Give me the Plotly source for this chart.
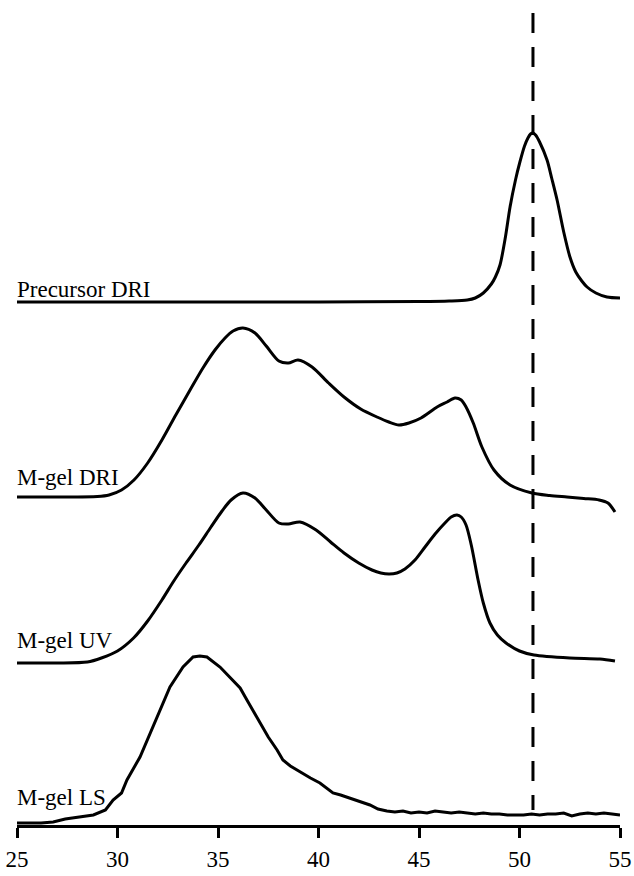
import plotly.graph_objects as go

# ---------------- data (x = elution volume, y = detector response, arbitrary units) ----------------
x_ticks = [25, 30, 35, 40, 45, 50, 55]
tick_labels = ["25", "30", "35", "40", "45", "50", "55"]

series_names = ["Precursor DRI", "M-gel DRI", "M-gel UV", "M-gel LS"]
series_offsets = [523, 328, 162, 2]          # vertical stacking offsets
label_y = [536, 348, 185, 28]                 # label heights (same units as y)

prec_x = [25.0, 30.0, 35.0, 40.0, 45.0, 46.5, 47.4, 47.8, 48.2, 48.6, 48.8, 49.03, 49.3, 49.53,
          49.8, 50.02, 50.25, 50.42, 50.55, 50.67, 50.8, 51.0, 51.37, 51.6, 51.87, 52.2, 52.51,
          52.8, 53.1, 53.36, 53.8, 54.35, 55.0]
prec_y = [0, 0, 0, 0, 0.5, 1, 2, 4, 9, 18, 25, 37, 65, 95,
          122, 140, 156, 164, 168, 169, 167, 160, 142, 124, 102, 70, 45,
          30, 21, 15, 9, 5, 4]

dri_x = [25.0, 27.0, 29.0, 29.58, 30.2, 30.82, 31.5, 32.21, 32.9, 33.61, 34.25, 34.85, 35.35,
         35.75, 36.24, 36.84, 37.4, 38.03, 38.5, 38.98, 39.68, 40.5, 41.27, 42.1, 42.91, 43.5,
         44.0, 44.5, 45.1, 45.9, 46.4, 46.79, 47.1, 47.34, 47.7, 48.13, 48.73, 49.53, 50.62,
         51.5, 52.36, 53.2, 53.96, 54.4, 54.75]
dri_y = [0, 0, 0.5, 2, 7, 17, 34, 57, 82, 107, 129, 147, 159,
         166, 169, 164, 151, 136, 134, 137, 130, 114, 100, 88, 80, 75,
         72, 74, 79, 90, 95, 99, 97, 90, 74, 50, 27, 12, 4,
         1.5, 0, -1.5, -3, -6, -15]

uv_x = [25.0, 27.0, 28.5, 29.2, 30.0, 30.8, 31.5, 32.21, 32.8, 33.41, 34.05, 34.65, 35.2, 35.65,
        36.24, 36.84, 37.4, 38.03, 38.5, 39.08, 39.88, 40.6, 41.27, 42.0, 42.66, 43.1, 43.51,
        43.9, 44.3, 44.8, 45.3, 45.8, 46.29, 46.6, 46.89, 47.1, 47.34, 47.6, 47.94, 48.2,
        48.53, 48.9, 49.33, 50.0, 50.72, 52.5, 54.0, 54.75]
uv_y = [0, 0, 1, 5, 12, 25, 42, 63, 82, 100, 118, 136, 152, 163,
        170, 165, 153, 140, 139, 141, 133, 121, 110, 100, 93, 90, 89,
        90, 94, 103, 116, 129, 140, 146, 148, 146, 138, 118, 83, 60,
        40, 28, 20, 12, 8, 5, 4, 2]

ls_x = [25.0, 26.2, 26.8, 27.4, 28.1, 28.8, 29.4, 29.78, 30.2, 30.47, 31.12, 31.77, 32.61, 33.26,
        33.76, 34.1, 34.45, 35.1, 35.75, 36.1, 36.44, 37.09, 37.5, 37.94, 38.23, 38.6, 39.08,
        39.6, 40.07, 40.4, 40.72, 41.1, 41.57, 42.0, 42.56, 42.96, 43.4, 43.8, 44.2, 44.6,
        45.0, 45.4, 45.8, 46.2, 46.6, 47.0, 47.4, 47.8, 48.2, 48.6, 49.0, 49.4, 49.8, 50.2,
        50.6, 51.0, 51.4, 51.8, 52.2, 52.6, 53.0, 53.4, 53.8, 54.2, 54.6, 55.0]
ls_y = [0, 0, 1, 4, 6, 8, 13, 23, 30, 43, 66, 96, 136, 156,
        166, 167, 166, 156, 143, 135, 123, 100, 86, 73, 63, 57, 51,
        45, 40, 35, 30, 28, 25, 22, 18, 14, 12, 11, 12, 10,
        11, 10, 12, 11, 10, 11, 10, 9, 10, 9, 9, 8, 8, 8,
        9, 8, 9, 9, 10, 7, 9, 10, 9, 10, 9, 8]

marker_x = 50.67                 # dashed reference line position
marker_span = [812, 15]          # top / bottom of dashed line

curves = [(prec_x, prec_y, "spline"), (dri_x, dri_y, "spline"),
          (uv_x, uv_y, "spline"), (ls_x, ls_y, "linear")]

SERIF = "Liberation Serif, Times New Roman, Times, serif"

fig = go.Figure()
for (xs, ys, shape), off, name in zip(curves, series_offsets, series_names):
    fig.add_trace(go.Scatter(
        x=xs, y=[v + off for v in ys], mode="lines", name=name,
        line=dict(color="black", width=3, shape=shape, smoothing=0.8),
        hoverinfo="skip", showlegend=False))

fig.add_shape(type="line", xref="x", yref="y",
              x0=marker_x, x1=marker_x, y0=marker_span[0], y1=marker_span[1],
              line=dict(color="black", width=3, dash="20px,14px"))

for name, ly in zip(series_names, label_y):
    fig.add_annotation(x=-0.004, xref="paper", y=ly, yref="y", text=name,
                       showarrow=False, xanchor="left", yanchor="middle",
                       font=dict(family=SERIF, size=23, color="black"))

fig.update_layout(
    width=634, height=876,
    margin=dict(l=17, r=14, t=10, b=51, autoexpand=False),
    paper_bgcolor="white", plot_bgcolor="white",
    xaxis=dict(range=[25, 55], tickvals=x_ticks, ticktext=tick_labels,
               showline=True, linecolor="black", linewidth=3,
               ticks="outside", ticklen=10, tickwidth=3, tickcolor="black",
               showgrid=False, zeroline=False, automargin=False,
               tickfont=dict(family=SERIF, size=23, color="black"),
               ticklabelstandoff=1),
    yaxis=dict(range=[0, 815], visible=False, showgrid=False, zeroline=False,
               automargin=False),
)

fig.write_html("out.html")
